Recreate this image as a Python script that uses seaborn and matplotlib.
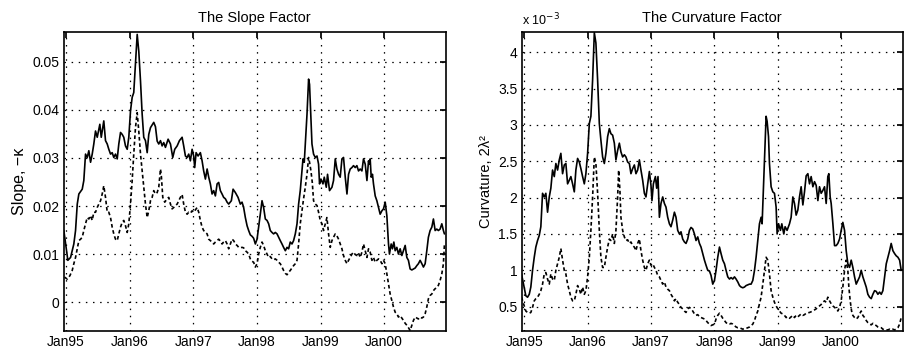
import numpy as np
import pandas as pd
import matplotlib
matplotlib.use("Agg")
import matplotlib.pyplot as plt
import seaborn as sns

# ---------------- data (time in years since Jan 1995) ----------------
slope_solid_t = [-0.035, 0.028, 0.071, 0.122, 0.149, 0.176, 0.201, 0.254, 0.279, 0.306, 0.333, 0.358, 0.385, 0.411,
                 0.436, 0.463, 0.490, 0.531, 0.553, 0.593, 0.620, 0.647, 0.672, 0.699, 0.725, 0.750, 0.777, 0.804,
                 0.829, 0.856, 0.882, 0.907, 0.934, 0.961, 0.986, 1.013, 1.039, 1.064, 1.091, 1.118, 1.143, 1.170,
                 1.196, 1.221, 1.248, 1.275, 1.300, 1.327, 1.378, 1.405, 1.432, 1.457, 1.484, 1.510, 1.535, 1.562,
                 1.604, 1.641, 1.677, 1.708, 1.746, 1.782, 1.824, 1.849, 1.876, 1.903, 1.928, 1.954, 1.981, 2.006,
                 2.022, 2.044, 2.075, 2.111, 2.138, 2.163, 2.190, 2.217, 2.242, 2.268, 2.295, 2.320, 2.347, 2.374,
                 2.399, 2.425, 2.452, 2.477, 2.504, 2.531, 2.556, 2.598, 2.625, 2.661, 2.703, 2.739, 2.766, 2.791,
                 2.818, 2.845, 2.870, 2.896, 2.923, 2.948, 2.975, 3.002, 3.027, 3.053, 3.080, 3.105, 3.132, 3.159,
                 3.184, 3.210, 3.237, 3.262, 3.289, 3.316, 3.341, 3.367, 3.394, 3.419, 3.446, 3.473, 3.498, 3.524,
                 3.551, 3.576, 3.603, 3.630, 3.655, 3.681, 3.708, 3.724, 3.744, 3.760, 3.787, 3.812, 3.827, 3.849,
                 3.865, 3.890, 3.917, 3.944, 3.969, 3.984, 4.006, 4.038, 4.058, 4.090, 4.110, 4.141, 4.179, 4.204,
                 4.231, 4.257, 4.283, 4.309, 4.336, 4.361, 4.388, 4.415, 4.440, 4.466, 4.493, 4.518, 4.545, 4.571,
                 4.597, 4.623, 4.650, 4.675, 4.702, 4.729, 4.754, 4.765, 4.780, 4.796, 4.816, 4.832, 4.859, 4.885,
                 4.911, 4.937, 4.964, 4.989, 5.016, 5.042, 5.068, 5.083, 5.110, 5.130, 5.152, 5.173, 5.199, 5.224,
                 5.251, 5.278, 5.303, 5.330, 5.356, 5.381, 5.408, 5.435, 5.460, 5.487, 5.513, 5.538, 5.565, 5.592,
                 5.617, 5.644, 5.670, 5.695, 5.722, 5.749, 5.774, 5.801, 5.827, 5.852, 5.879, 5.906, 5.931, 5.947]
# slope values in units of 1e-3
slope_solid_v = [14.9, 8.7, 9.3, 12.1, 14.9, 20.4, 22.5, 23.5, 25.3, 30.8, 30.1, 31.5, 29.1, 30.8,
                 32.9, 35.6, 34.3, 37.0, 34.3, 37.7, 33.6, 32.9, 31.8, 30.8, 31.1, 30.1, 30.8, 29.8,
                 32.9, 35.3, 34.9, 34.3, 32.5, 31.8, 34.3, 39.8, 42.6, 43.6, 49.5, 55.7, 52.2, 46.0,
                 39.1, 34.3, 33.6, 31.1, 34.9, 36.3, 37.4, 36.5, 33.5, 32.9, 33.6, 32.5, 33.2, 32.2,
                 33.9, 32.9, 30.1, 31.8, 32.5, 33.6, 34.3, 32.5, 30.4, 30.1, 30.8, 29.4, 31.8, 30.4,
                 28.0, 31.1, 30.4, 31.1, 29.4, 27.3, 25.6, 27.7, 26.0, 24.6, 22.5, 23.2, 22.1, 24.6,
                 24.9, 23.2, 22.5, 21.8, 21.5, 20.8, 20.4, 21.1, 23.5, 22.8, 21.8, 20.4, 20.8, 19.7,
                 17.6, 15.9, 14.9, 14.0, 13.7, 13.3, 12.1, 13.1, 15.6, 18.3, 21.1, 19.7, 17.3, 17.0,
                 16.3, 14.9, 14.5, 14.2, 14.5, 14.2, 13.5, 12.8, 12.1, 11.4, 10.7, 11.4, 11.1, 12.5,
                 12.1, 12.8, 14.2, 16.3, 20.4, 23.2, 27.3, 29.8, 29.1, 32.9, 39.1, 46.4, 45.3, 38.4,
                 32.9, 30.8, 30.1, 30.4, 28.7, 24.6, 25.6, 24.6, 26.0, 23.9, 26.6, 23.2, 23.9, 25.3,
                 29.8, 27.7, 26.6, 26.0, 29.8, 30.1, 26.0, 22.5, 26.6, 27.7, 28.0, 28.4, 28.0, 28.4,
                 27.3, 27.7, 27.3, 29.8, 28.7, 25.3, 29.4, 28.7, 29.8, 26.0, 26.6, 24.6, 22.1, 21.1,
                 19.7, 18.3, 19.0, 19.4, 20.8, 18.0, 12.1, 10.0, 12.1, 11.1, 12.5, 10.7, 11.4, 10.0,
                 11.1, 9.7, 10.7, 11.8, 9.3, 8.7, 6.9, 6.7, 6.9, 7.1, 7.6, 8.0, 8.7, 8.0,
                 7.3, 8.0, 10.7, 13.5, 14.9, 15.6, 17.3, 14.9, 15.2, 14.9, 15.2, 16.3, 14.9, 14.2]

slope_dash_t = [-0.024, 0.019, 0.060, 0.097, 0.122, 0.149, 0.176, 0.201, 0.228, 0.254, 0.279, 0.306, 0.333, 0.358,
                0.385, 0.411, 0.436, 0.463, 0.490, 0.515, 0.542, 0.568, 0.593, 0.620, 0.647, 0.672, 0.699, 0.725,
                0.750, 0.777, 0.804, 0.829, 0.856, 0.882, 0.907, 0.934, 0.961, 0.986, 1.013, 1.039, 1.064, 1.091,
                1.118, 1.143, 1.170, 1.196, 1.221, 1.248, 1.275, 1.300, 1.327, 1.353, 1.378, 1.405, 1.432, 1.457,
                1.484, 1.499, 1.520, 1.551, 1.589, 1.614, 1.641, 1.667, 1.692, 1.719, 1.746, 1.771, 1.797, 1.824,
                1.849, 1.876, 1.903, 1.928, 1.954, 1.981, 2.006, 2.033, 2.060, 2.085, 2.111, 2.138, 2.163, 2.190,
                2.217, 2.242, 2.268, 2.295, 2.320, 2.347, 2.374, 2.399, 2.425, 2.452, 2.477, 2.504, 2.531, 2.556,
                2.582, 2.609, 2.634, 2.661, 2.688, 2.713, 2.739, 2.766, 2.791, 2.818, 2.845, 2.870, 2.896, 2.923,
                2.948, 2.975, 3.002, 3.027, 3.053, 3.080, 3.105, 3.132, 3.159, 3.184, 3.210, 3.237, 3.262, 3.289,
                3.316, 3.341, 3.367, 3.394, 3.419, 3.446, 3.473, 3.498, 3.524, 3.551, 3.576, 3.603, 3.630, 3.655,
                3.681, 3.708, 3.733, 3.760, 3.787, 3.812, 3.827, 3.849, 3.870, 3.890, 3.917, 3.944, 3.969, 3.995,
                4.022, 4.047, 4.074, 4.100, 4.126, 4.152, 4.179, 4.204, 4.231, 4.257, 4.283, 4.309, 4.336, 4.361,
                4.388, 4.415, 4.440, 4.466, 4.493, 4.518, 4.545, 4.571, 4.597, 4.623, 4.650, 4.675, 4.702, 4.729,
                4.754, 4.780, 4.807, 4.832, 4.859, 4.885, 4.911, 4.937, 4.964, 4.989, 5.016, 5.042, 5.068, 5.094,
                5.121, 5.146, 5.173, 5.199, 5.224, 5.251, 5.278, 5.303, 5.330, 5.356, 5.381, 5.408, 5.435, 5.460,
                5.487, 5.513, 5.538, 5.565, 5.592, 5.617, 5.644, 5.670, 5.695, 5.722, 5.749, 5.774, 5.801, 5.827,
                5.852, 5.879, 5.906, 5.931, 5.947]
slope_dash_v = [5.2, 4.8, 5.5, 6.6, 8.0, 9.3, 11.1, 12.8, 13.1, 13.5, 14.9, 16.3, 17.6, 17.3,
                18.0, 17.0, 18.7, 18.7, 19.7, 20.4, 21.1, 22.5, 24.2, 21.8, 18.7, 18.7, 17.6, 15.6,
                14.2, 13.1, 12.8, 14.2, 15.6, 16.6, 17.0, 15.9, 14.5, 16.3, 20.4, 25.3, 30.8, 36.3,
                39.4, 35.6, 30.8, 27.3, 23.9, 20.4, 17.6, 19.0, 21.1, 21.8, 23.2, 22.5, 22.8, 23.9,
                27.7, 26.0, 21.8, 20.8, 21.5, 21.8, 20.4, 19.4, 19.7, 20.1, 20.4, 21.1, 21.8, 22.4,
                20.4, 18.7, 18.3, 18.7, 18.5, 19.0, 18.7, 19.2, 19.7, 18.7, 17.0, 15.6, 14.9, 14.5,
                14.2, 13.1, 12.8, 12.5, 12.1, 12.5, 12.8, 13.1, 12.7, 12.1, 12.5, 12.8, 12.1, 11.1,
                12.1, 13.1, 12.8, 12.1, 11.8, 11.4, 11.3, 11.4, 11.3, 10.7, 10.4, 10.0, 9.0, 8.5,
                8.3, 7.3, 8.0, 10.0, 11.4, 12.5, 11.8, 10.7, 10.0, 9.3, 9.5, 9.0, 8.8, 9.0,
                8.7, 8.3, 8.0, 7.3, 6.6, 6.0, 5.7, 6.2, 6.6, 7.1, 7.6, 8.0, 8.7, 12.1,
                16.3, 19.0, 21.5, 23.9, 26.6, 30.1, 29.1, 27.3, 24.9, 21.1, 20.4, 20.1, 18.7, 17.0,
                16.3, 14.9, 16.3, 17.6, 14.2, 11.4, 12.8, 13.5, 14.2, 13.8, 13.1, 12.1, 11.1, 9.7,
                8.7, 8.0, 8.7, 9.3, 10.0, 10.4, 9.9, 9.7, 10.2, 9.3, 10.4, 12.1, 10.7, 9.3,
                11.1, 10.4, 8.7, 9.3, 8.3, 8.7, 9.0, 8.7, 8.0, 8.7, 8.0, 5.9, 3.8, 1.7,
                0.3, -1.0, -2.1, -2.4, -3.1, -2.8, -3.3, -3.8, -4.4, -4.8, -5.3, -5.9, -4.8, -3.8,
                -3.1, -3.3, -3.5, -3.1, -3.3, -3.1, -2.4, -1.0, 0.7, 1.4, 1.7, 2.4, 2.8, 3.0,
                3.5, 4.5, 5.9, 8.0, 12.1]

curv_solid_t = [-0.043, -0.011, 0.025, 0.052, 0.079, 0.104, 0.131, 0.158, 0.183, 0.210, 0.237, 0.262, 0.289, 0.316,
                0.341, 0.368, 0.395, 0.420, 0.447, 0.474, 0.499, 0.526, 0.553, 0.578, 0.605, 0.632, 0.657, 0.684,
                0.711, 0.736, 0.763, 0.790, 0.815, 0.842, 0.869, 0.894, 0.921, 0.948, 0.973, 1.000, 1.027, 1.052,
                1.079, 1.106, 1.131, 1.158, 1.185, 1.210, 1.237, 1.264, 1.289, 1.316, 1.343, 1.368, 1.395, 1.422,
                1.447, 1.474, 1.501, 1.526, 1.553, 1.580, 1.605, 1.632, 1.659, 1.684, 1.711, 1.738, 1.763, 1.790,
                1.817, 1.842, 1.869, 1.896, 1.921, 1.948, 1.975, 2.000, 2.016, 2.038, 2.070, 2.090, 2.111, 2.133,
                2.158, 2.185, 2.212, 2.237, 2.264, 2.291, 2.316, 2.343, 2.370, 2.395, 2.422, 2.449, 2.474, 2.501,
                2.528, 2.553, 2.580, 2.607, 2.632, 2.659, 2.686, 2.711, 2.738, 2.765, 2.790, 2.817, 2.844, 2.869,
                2.896, 2.923, 2.948, 2.975, 3.002, 3.027, 3.054, 3.081, 3.106, 3.133, 3.160, 3.185, 3.212, 3.239,
                3.264, 3.291, 3.318, 3.343, 3.370, 3.397, 3.422, 3.449, 3.476, 3.501, 3.528, 3.555, 3.580, 3.607,
                3.634, 3.659, 3.686, 3.712, 3.738, 3.754, 3.770, 3.791, 3.817, 3.833, 3.855, 3.870, 3.896, 3.923,
                3.949, 3.975, 3.991, 4.013, 4.044, 4.065, 4.096, 4.117, 4.148, 4.186, 4.212, 4.239, 4.265, 4.291,
                4.318, 4.344, 4.370, 4.397, 4.423, 4.449, 4.476, 4.502, 4.528, 4.555, 4.581, 4.607, 4.634, 4.660,
                4.686, 4.713, 4.739, 4.765, 4.791, 4.807, 4.828, 4.844, 4.871, 4.897, 4.923, 4.949, 4.976, 5.002,
                5.028, 5.055, 5.081, 5.107, 5.134, 5.160, 5.186, 5.213, 5.239, 5.265, 5.292, 5.318, 5.344, 5.371,
                5.397, 5.423, 5.450, 5.476, 5.502, 5.529, 5.555, 5.581, 5.608, 5.634, 5.660, 5.687, 5.713, 5.739,
                5.766, 5.791, 5.818, 5.845, 5.870, 5.897, 5.924, 5.949]
# curvature values in units of 1e-3
curv_solid_v = [0.95, 0.81, 0.65, 0.63, 0.67, 0.77, 1.00, 1.18, 1.32, 1.41, 1.48, 1.60, 2.06, 2.01,
                2.06, 1.80, 2.01, 2.13, 2.38, 2.29, 2.47, 2.38, 2.52, 2.61, 2.33, 2.45, 2.47, 2.19,
                2.24, 2.29, 2.19, 2.08, 2.38, 2.54, 2.49, 2.40, 2.29, 2.19, 2.33, 2.61, 3.02, 3.12,
                3.62, 4.27, 4.13, 3.62, 3.02, 2.79, 2.56, 2.47, 2.61, 2.84, 2.95, 2.88, 2.86, 2.75,
                2.52, 2.65, 2.75, 2.63, 2.56, 2.59, 2.56, 2.49, 2.47, 2.33, 2.40, 2.45, 2.33, 2.38,
                2.52, 2.38, 2.24, 2.06, 2.01, 2.19, 2.36, 2.17, 1.96, 2.19, 2.29, 2.13, 2.29, 1.73,
                1.92, 2.01, 1.92, 1.87, 1.73, 1.64, 1.60, 1.69, 1.80, 1.73, 1.55, 1.50, 1.53, 1.43,
                1.39, 1.37, 1.43, 1.55, 1.59, 1.57, 1.50, 1.41, 1.46, 1.37, 1.32, 1.23, 1.14, 1.07,
                1.00, 0.99, 0.93, 0.81, 0.86, 1.00, 1.18, 1.32, 1.23, 1.14, 1.09, 1.00, 0.91, 0.88,
                0.90, 0.88, 0.91, 0.88, 0.84, 0.79, 0.77, 0.76, 0.77, 0.79, 0.80, 0.81, 0.81, 0.86,
                1.00, 1.18, 1.41, 1.64, 1.73, 1.64, 2.01, 2.47, 3.12, 3.05, 2.84, 2.47, 2.15, 2.08,
                2.06, 1.87, 1.50, 1.64, 1.55, 1.64, 1.50, 1.60, 1.55, 1.64, 1.73, 2.01, 1.92, 1.76,
                1.83, 2.01, 2.15, 1.90, 2.08, 2.30, 2.33, 2.19, 2.29, 2.15, 2.22, 2.17, 1.96, 2.15,
                2.06, 2.10, 2.15, 1.92, 2.29, 2.33, 2.01, 1.92, 1.64, 1.34, 1.34, 1.37, 1.43, 1.55,
                1.66, 1.55, 1.27, 1.09, 1.04, 1.14, 1.04, 0.91, 0.81, 0.86, 0.91, 1.00, 0.91, 0.84,
                0.77, 0.67, 0.63, 0.61, 0.67, 0.72, 0.71, 0.67, 0.70, 0.67, 0.72, 0.91, 1.09, 1.18,
                1.27, 1.37, 1.27, 1.23, 1.20, 1.18, 1.14, 1.00]

curv_dash_t = [-0.043, -0.011, 0.025, 0.052, 0.079, 0.104, 0.131, 0.158, 0.183, 0.210, 0.237, 0.262, 0.289, 0.316,
               0.341, 0.368, 0.395, 0.420, 0.447, 0.474, 0.499, 0.526, 0.553, 0.578, 0.605, 0.632, 0.657, 0.684,
               0.711, 0.736, 0.763, 0.790, 0.815, 0.842, 0.869, 0.894, 0.921, 0.948, 0.973, 1.000, 1.027, 1.052,
               1.079, 1.106, 1.131, 1.158, 1.185, 1.210, 1.237, 1.264, 1.289, 1.316, 1.343, 1.368, 1.395, 1.422,
               1.447, 1.474, 1.490, 1.510, 1.526, 1.553, 1.580, 1.605, 1.632, 1.659, 1.684, 1.711, 1.738, 1.763,
               1.790, 1.817, 1.842, 1.869, 1.896, 1.921, 1.948, 1.975, 2.000, 2.027, 2.054, 2.079, 2.106, 2.133,
               2.158, 2.185, 2.212, 2.237, 2.264, 2.291, 2.316, 2.343, 2.370, 2.395, 2.422, 2.449, 2.474, 2.501,
               2.528, 2.553, 2.580, 2.607, 2.632, 2.659, 2.686, 2.711, 2.738, 2.765, 2.790, 2.817, 2.844, 2.869,
               2.896, 2.923, 2.948, 2.975, 3.002, 3.027, 3.054, 3.081, 3.106, 3.133, 3.160, 3.185, 3.212, 3.239,
               3.264, 3.291, 3.318, 3.343, 3.370, 3.397, 3.422, 3.449, 3.476, 3.501, 3.528, 3.555, 3.580, 3.607,
               3.634, 3.659, 3.686, 3.712, 3.738, 3.765, 3.791, 3.817, 3.843, 3.870, 3.896, 3.923, 3.949, 3.975,
               4.002, 4.028, 4.054, 4.081, 4.107, 4.133, 4.159, 4.186, 4.212, 4.239, 4.265, 4.291, 4.318, 4.344,
               4.370, 4.397, 4.423, 4.449, 4.502, 4.555, 4.607, 4.634, 4.660, 4.686, 4.713, 4.739, 4.765, 4.791,
               4.818, 4.844, 4.871, 4.897, 4.923, 4.949, 4.976, 5.002, 5.028, 5.055, 5.081, 5.107, 5.123, 5.144,
               5.166, 5.186, 5.213, 5.239, 5.265, 5.292, 5.318, 5.344, 5.371, 5.397, 5.423, 5.450, 5.476, 5.502,
               5.529, 5.555, 5.581, 5.608, 5.634, 5.660, 5.687, 5.713, 5.739, 5.766, 5.791, 5.818, 5.845, 5.870,
               5.897, 5.924, 5.949]
curv_dash_v = [0.63, 0.54, 0.44, 0.42, 0.41, 0.42, 0.49, 0.58, 0.61, 0.63, 0.67, 0.72, 0.81, 0.95,
               0.97, 0.88, 0.81, 0.95, 0.88, 0.86, 1.00, 1.09, 1.18, 1.30, 1.14, 1.00, 0.95, 0.81,
               0.72, 0.63, 0.58, 0.58, 0.67, 0.79, 0.74, 0.67, 0.77, 0.67, 0.72, 0.91, 1.18, 1.55,
               2.01, 2.56, 2.47, 2.06, 1.55, 1.18, 1.04, 1.04, 1.18, 1.32, 1.43, 1.41, 1.50, 1.37,
               1.55, 2.01, 2.38, 2.10, 1.73, 1.55, 1.46, 1.41, 1.42, 1.37, 1.39, 1.34, 1.32, 1.27,
               1.37, 1.43, 1.27, 1.14, 1.04, 1.00, 1.09, 1.14, 1.07, 1.09, 1.04, 1.00, 0.93, 0.91,
               0.86, 0.81, 0.84, 0.77, 0.74, 0.72, 0.67, 0.63, 0.58, 0.61, 0.56, 0.53, 0.49, 0.47,
               0.44, 0.42, 0.47, 0.49, 0.47, 0.44, 0.40, 0.38, 0.39, 0.36, 0.35, 0.34, 0.33, 0.31,
               0.28, 0.26, 0.24, 0.25, 0.26, 0.33, 0.38, 0.41, 0.38, 0.34, 0.31, 0.28, 0.26, 0.26,
               0.27, 0.26, 0.24, 0.22, 0.21, 0.21, 0.20, 0.19, 0.20, 0.20, 0.21, 0.22, 0.24, 0.26,
               0.31, 0.38, 0.44, 0.54, 0.63, 0.81, 1.00, 1.18, 1.14, 0.95, 0.72, 0.63, 0.56, 0.51,
               0.47, 0.44, 0.41, 0.40, 0.38, 0.35, 0.36, 0.34, 0.36, 0.38, 0.35, 0.38, 0.36, 0.38,
               0.40, 0.38, 0.39, 0.41, 0.42, 0.44, 0.47, 0.49, 0.51, 0.53, 0.56, 0.58, 0.56, 0.63,
               0.58, 0.54, 0.51, 0.49, 0.47, 0.44, 0.49, 0.58, 0.77, 1.00, 1.14, 1.00, 0.77, 0.58,
               0.44, 0.38, 0.35, 0.33, 0.35, 0.40, 0.44, 0.38, 0.35, 0.31, 0.28, 0.26, 0.25, 0.27,
               0.25, 0.24, 0.22, 0.21, 0.21, 0.19, 0.18, 0.18, 0.18, 0.19, 0.18, 0.19, 0.18, 0.19,
               0.21, 0.26, 0.35]

year_ticks = [1995, 1996, 1997, 1998, 1999, 2000]
year_labels = ["Jan95", "Jan96", "Jan97", "Jan98", "Jan99", "Jan00"]
slope_ticks = [0, 0.01, 0.02, 0.03, 0.04, 0.05]
curv_ticks = [0.5, 1, 1.5, 2, 2.5, 3, 3.5, 4]

# ---------------- style ----------------
sns.set_theme(style="white")
plt.rcParams["font.family"] = ["Liberation Sans", "DejaVu Sans"]
plt.rcParams.update({
    "xtick.direction": "in", "ytick.direction": "in",
    "xtick.top": True, "ytick.right": True,
    "xtick.major.size": 4, "ytick.major.size": 4,
    "axes.edgecolor": "black", "axes.linewidth": 1.2,
    "xtick.color": "black", "ytick.color": "black",
    "text.color": "black", "axes.labelcolor": "black",
})

fig = plt.figure(figsize=(9.1, 3.5), dpi=100)
ax1 = fig.add_axes([0.0698, 0.0543, 0.4204, 0.8543])
ax2 = fig.add_axes([0.5733, 0.0543, 0.4187, 0.8543])

def series(t, v, scale):
    return pd.DataFrame({"year": 1995 + np.asarray(t), "value": np.asarray(v) * scale})

dash_style = (0, (2.2, 1.6))

s1 = series(slope_solid_t, slope_solid_v, 1e-3)
d1 = series(slope_dash_t, slope_dash_v, 1e-3)
sns.lineplot(data=s1, x="year", y="value", ax=ax1, color="black", lw=1.2, estimator=None, sort=False)
sns.lineplot(data=d1, x="year", y="value", ax=ax1, color="black", lw=1.2, estimator=None, sort=False,
             linestyle=dash_style)

s2 = series(curv_solid_t, curv_solid_v, 1.0)
d2 = series(curv_dash_t, curv_dash_v, 1.0)
sns.lineplot(data=s2, x="year", y="value", ax=ax2, color="black", lw=1.2, estimator=None, sort=False)
sns.lineplot(data=d2, x="year", y="value", ax=ax2, color="black", lw=1.2, estimator=None, sort=False,
             linestyle=dash_style)

for ax in (ax1, ax2):
    ax.set_xlim(1994.96, 2000.973)
    ax.set_xticks(year_ticks)
    ax.set_xticklabels(year_labels)
    ax.grid(True, color="black", linestyle=(0, (1.2, 4.5)), linewidth=0.9)
    ax.set_xlabel("")
    ax.tick_params(labelsize=10, pad=3)
    for sp in ax.spines.values():
        sp.set_visible(True)
        sp.set_color("black")

ax1.set_ylim(-0.006, 0.0562)
ax1.set_yticks(slope_ticks)
ax1.set_yticklabels([f"{v:g}" for v in slope_ticks])
ax1.set_ylabel("Slope, \u2212\u03ba", fontsize=11.5, labelpad=4)
ax1.set_title("The Slope Factor", fontsize=10.5, pad=7)

ax2.set_ylim(0.165, 4.28)
ax2.set_yticks(curv_ticks)
ax2.set_yticklabels([f"{v:g}" for v in curv_ticks])
ax2.set_ylabel("Curvature, 2\u03bb\u00b2", fontsize=10.5, labelpad=4)
ax2.set_title("The Curvature Factor", fontsize=10.5, pad=7)
ax2.text(0.0, 1.012, "x 10$^{-3}$", transform=ax2.transAxes, fontsize=9, ha="left", va="bottom")

fig.savefig("out.png", dpi=100)
